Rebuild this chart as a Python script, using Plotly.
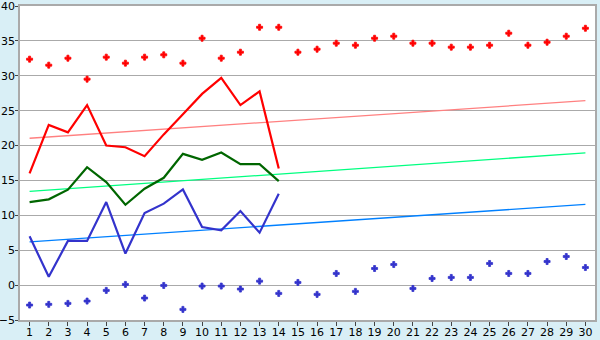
import plotly.graph_objects as go

days = list(range(1, 31))
red_line = [16.0, 22.95, 21.9, 25.8, 20.0, 19.76, 18.48, 21.6, 24.5, 27.4, 29.7, 25.8, 27.76, 16.7]
green_line = [11.9, 12.29, 13.67, 16.9, 14.76, 11.52, 13.81, 15.38, 18.81, 17.95, 19.0, 17.33, 17.33, 14.9]
blue_line = [7.0, 1.19, 6.33, 6.33, 11.9, 4.52, 10.33, 11.67, 13.71, 8.33, 7.86, 10.62, 7.52, 13.1]
red_pts = [32.38, 31.52, 32.52, 29.52, 32.67, 31.81, 32.67, 33.0, 31.81, 35.38,
           32.52, 33.38, 36.95, 36.95, 33.38, 33.81, 34.67, 34.38, 35.38, 35.67,
           34.67, 34.67, 34.1, 34.1, 34.38, 36.1, 34.38, 34.81, 35.67, 36.81]
blue_pts = [-2.86, -2.76, -2.62, -2.29, -0.76, 0.1, -1.86, -0.05, -3.48, -0.14,
            -0.14, -0.57, 0.57, -1.19, 0.38, -1.33, 1.67, -0.9, 2.38, 2.95,
            -0.48, 0.95, 1.1, 1.1, 3.1, 1.67, 1.67, 3.38, 4.1, 2.52]
trend_x = [1, 30]
red_trend = [21.05, 26.43]
green_trend = [13.43, 18.95]
blue_trend = [6.19, 11.57]
y_ticks = [-5, 0, 5, 10, 15, 20, 25, 30, 35, 40]

fig = go.Figure()
fig.add_trace(go.Scatter(x=trend_x, y=red_trend, mode="lines", line=dict(color="#FF8080", width=1.3)))
fig.add_trace(go.Scatter(x=trend_x, y=green_trend, mode="lines", line=dict(color="#00FF80", width=1.3)))
fig.add_trace(go.Scatter(x=trend_x, y=blue_trend, mode="lines", line=dict(color="#0080FF", width=1.3)))
fig.add_trace(go.Scatter(x=days[:len(red_line)], y=red_line, mode="lines", line=dict(color="#FF0000", width=2.2)))
fig.add_trace(go.Scatter(x=days[:len(green_line)], y=green_line, mode="lines", line=dict(color="#006600", width=2.2)))
fig.add_trace(go.Scatter(x=days[:len(blue_line)], y=blue_line, mode="lines", line=dict(color="#3333CC", width=2.2)))
fig.add_trace(go.Scatter(x=days, y=red_pts, mode="markers",
                         marker=dict(symbol="cross", size=5, color="#FF0000", line=dict(width=0.8, color="#FF0000"))))
fig.add_trace(go.Scatter(x=days, y=blue_pts, mode="markers",
                         marker=dict(symbol="cross", size=5, color="#3333CC", line=dict(width=0.8, color="#3333CC"))))

fig.update_layout(
    width=600, height=340,
    margin=dict(l=20, r=5, t=6, b=20, autoexpand=False),
    paper_bgcolor="#D9EFF6",
    plot_bgcolor="#FFFFFF",
    showlegend=False,
    font=dict(family="DejaVu Sans", size=11, color="#000000"),
)
fig.update_xaxes(
    range=[0.5, 30.5], tickmode="array", tickvals=days, ticktext=[str(d) for d in days],
    showgrid=False, zeroline=False, showline=True, linecolor="#AAAAAA", linewidth=1.5, mirror=True,
    ticks="outside", ticklen=4, tickcolor="#444444", tickwidth=1, automargin=False,
    ticklabelstandoff=-3, ticklabeloverflow="allow",
)
fig.update_yaxes(
    range=[-5, 40], tickmode="array", tickvals=y_ticks,
    showgrid=True, gridcolor="#AAAAAA", gridwidth=1, zeroline=False,
    showline=True, linecolor="#AAAAAA", linewidth=1.5, mirror=True,
    ticks="outside", ticklen=3, tickcolor="#444444", tickwidth=1, automargin=False,
    ticklabelstandoff=-2, ticklabeloverflow="allow",
)
fig.write_html("out.html")
